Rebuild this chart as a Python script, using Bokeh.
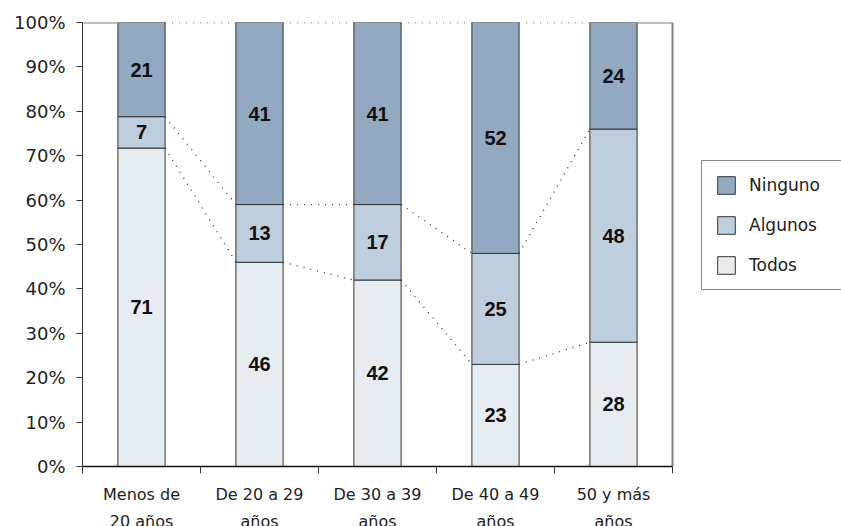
from bokeh.plotting import figure
from bokeh.models import (ColumnDataSource, Range1d, FixedTicker, PrintfTickFormatter,
                          Legend, LegendItem, LinearAxis)
from bokeh.core.properties import value
from bokeh.embed import file_html
from bokeh.resources import INLINE

categories = ["Menos de\n20 años", "De 20 a 29\naños", "De 30 a 39\naños", "De 40 a 49\naños", "50 y más\naños"]
todos = [71, 46, 42, 23, 28]
algunos = [7, 13, 17, 25, 48]
ninguno = [21, 41, 41, 52, 24]
y_ticks = [0, 10, 20, 30, 40, 50, 60, 70, 80, 90, 100]

FONT = "DejaVu Sans"
BFONT = "Liberation Sans"
c_ning = "#93a9c1"
c_alg = "#bfcedc"
c_tod = "#e7ecf1"

n = len(categories)
xs = [i + 0.5 for i in range(n)]
tot = [a + b + c for a, b, c in zip(todos, algunos, ninguno)]
t_top = [t / s * 100 for t, s in zip(todos, tot)]
a_top = [(t + a) / s * 100 for t, a, s in zip(todos, algunos, tot)]
n_top = [100.0 for _ in tot]
t_bot = [0.0] * n

# frame spans to the right edge so the legend can sit inside it
FRAME_W = 759
PLOT_W = 590
x_end = n * FRAME_W / PLOT_W

p = figure(frame_width=FRAME_W, frame_height=444, output_backend="svg", toolbar_location=None,
           x_range=Range1d(0, x_end), y_range=Range1d(0, 100),
           min_border_left=82, min_border_right=0, min_border_top=22, min_border_bottom=0)
p.outline_line_color = None
p.xgrid.visible = False
p.ygrid.visible = False
p.background_fill_color = "white"
p.border_fill_color = "white"

bw = 0.4
src = ColumnDataSource(dict(x=xs, t_bot=t_bot, t_top=t_top, a_top=a_top, n_top=n_top,
                            todos=[str(v) for v in todos], algunos=[str(v) for v in algunos],
                            ninguno=[str(v) for v in ninguno],
                            t_mid=[(a + b) / 2 for a, b in zip(t_bot, t_top)],
                            a_mid=[(a + b) / 2 for a, b in zip(t_top, a_top)],
                            n_mid=[(a + b) / 2 for a, b in zip(a_top, n_top)]))

r_t = p.vbar(x="x", bottom="t_bot", top="t_top", width=bw, source=src,
             fill_color=c_tod, line_color="#333333", line_width=1)
r_a = p.vbar(x="x", bottom="t_top", top="a_top", width=bw, source=src,
             fill_color=c_alg, line_color="#333333", line_width=1)
r_n = p.vbar(x="x", bottom="a_top", top="n_top", width=bw, source=src,
             fill_color=c_ning, line_color="#333333", line_width=1)

# series (connector) lines
x0 = [x + bw / 2 for x in xs[:-1]]
x1 = [x - bw / 2 for x in xs[1:]]
for tops in (t_top, a_top, n_top):
    p.segment(x0=x0, y0=tops[:-1], x1=x1, y1=tops[1:], line_color="#333333",
              line_width=1.3, line_dash="1 6")

# top frame pieces outside bars, and right border of plot area
p.segment(x0=[0, xs[-1] + bw / 2], y0=[100, 100], x1=[xs[0] - bw / 2, n], y1=[100, 100],
          line_color="#808080", line_width=2)
p.segment(x0=[n], y0=[0], x1=[n], y1=[100], line_color="#808080", line_width=2)

for col, mid in (("todos", "t_mid"), ("algunos", "a_mid"), ("ninguno", "n_mid")):
    p.text(x="x", y=mid, text=col, source=src, text_align="center", text_baseline="middle",
           text_font=value(BFONT), text_font_style="bold", text_font_size="20px",
           text_color="#111111")

# axes
ya = p.yaxis[0]
ya.ticker = FixedTicker(ticks=y_ticks)
ya.formatter = PrintfTickFormatter(format="%d%%")
ya.major_label_text_font = FONT
ya.major_label_text_font_size = "18px"
ya.major_label_text_color = "#222222"
ya.major_tick_out = 6
ya.major_tick_in = 0
ya.minor_tick_out = 0
ya.minor_tick_in = 0
ya.axis_line_color = "#333333"
ya.major_tick_line_color = "#333333"
ya.major_label_standoff = 11

line1 = [c.split("\n")[0] for c in categories]
line2 = [c.split("\n")[1] for c in categories]

xa = p.xaxis[0]
xa.bounds = (0, n)
xa.ticker = FixedTicker(ticks=xs, minor_ticks=list(range(n + 1)))
xa.major_label_overrides = {x: c for x, c in zip(xs, line1)}
xa.major_label_text_font = FONT
xa.major_label_text_font_size = "16px"
xa.major_label_text_color = "#222222"
xa.major_tick_out = 0
xa.major_tick_in = 0
xa.minor_tick_out = 7
xa.minor_tick_in = 0
xa.minor_tick_line_color = "#333333"
xa.axis_line_color = "#111111"
xa.axis_line_width = 1.5
xa.major_label_standoff = 11

xa2 = LinearAxis(bounds=(0, n), ticker=FixedTicker(ticks=xs, minor_ticks=[]),
                 major_label_overrides={x: c for x, c in zip(xs, line2)},
                 major_label_text_font=FONT, major_label_text_font_size="16px",
                 major_label_text_color="#222222", major_tick_out=0, major_tick_in=0,
                 minor_tick_out=0, minor_tick_in=0, axis_line_color=None,
                 major_tick_line_color=None, minor_tick_line_color=None,
                 major_label_standoff=5)
p.add_layout(xa2, "below")

legend = Legend(items=[LegendItem(label="Ninguno", renderers=[r_n]),
                       LegendItem(label="Algunos", renderers=[r_a]),
                       LegendItem(label="Todos", renderers=[r_t])],
                location=(619, 176))
legend.glyph_width = 22
legend.glyph_height = 22
legend.label_height = 22
legend.label_width = 95
legend.spacing = 18
legend.padding = 13
legend.margin = 0
legend.label_standoff = 12
legend.label_text_font = FONT
legend.label_text_font_size = "17px"
legend.label_text_color = "#222222"
legend.border_line_color = "#111111"
legend.border_line_width = 1
legend.background_fill_color = "white"
legend.background_fill_alpha = 1
p.add_layout(legend, "center")

open("out.html", "w").write(file_html(p, INLINE))
